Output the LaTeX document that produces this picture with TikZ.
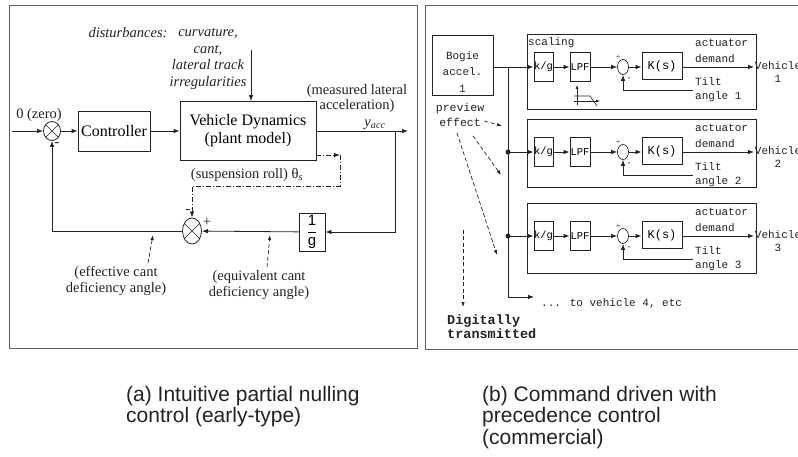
\documentclass[tikz,border=0pt]{standalone}
\usepackage{fontspec}
\setmainfont{Liberation Serif}
\setsansfont{Liberation Sans}
\newfontfamily\courfont{Liberation Mono}
\usetikzlibrary{arrows.meta,positioning,shapes.geometric,calc}
\definecolor{ink}{RGB}{35,35,35}
\definecolor{frame}{RGB}{95,95,95}

\begin{document}
\begin{tikzpicture}[x=1pt,y=-1pt,
  blk/.style={draw=ink,line width=0.8pt,inner sep=1pt},
  sig/.style={-{Latex[length=6pt,width=4.5pt]},ink,line width=0.8pt},
  lbl/.style={-{Latex[length=5pt,width=3.5pt]},ink,dashed,dash pattern=on 4pt off 2.5pt,line width=0.7pt},
  sumx/.style={draw=ink,ellipse,line width=0.8pt,inner sep=0pt},
  cmp/.style={draw=ink,ellipse,line width=0.7pt,inner sep=0pt,minimum width=11pt,minimum height=15pt},
  note/.style={font=\fontsize{14.5}{16}\selectfont,text=ink,align=center,inner sep=0pt},
  tt/.style={font=\courfont\fontsize{11}{13.5}\selectfont,text=ink,inner sep=0pt},
  cblk/.style={blk,font=\courfont\fontsize{10.5}{12}\selectfont,inner sep=0pt,minimum width=19pt,minimum height=29pt},
  panel/.style={draw=frame,line width=0.9pt}]
\useasboundingbox (0,0) rectangle (798,457);
\fill[white] (0,0) rectangle (798,457);
\clip (0,0) rectangle (798,457);

% (a) partial nulling loop
\draw[panel] (9,5) rectangle (417,348);
\coordinate (in) at (12,131);
\node[sumx,minimum width=17pt,minimum height=19pt] (s1) at (52,131) {};
\draw[ink,line width=0.7pt] (s1.45) -- (s1.225) (s1.135) -- (s1.-45);
\node[blk,minimum width=72pt,minimum height=40pt,font=\fontsize{16}{18}\selectfont] (ctrl) at (114,131) {Controller};
\node[blk,minimum width=136pt,minimum height=59pt,align=center,font=\fontsize{16}{18}\selectfont] (vd) at (248,131) {Vehicle Dynamics\\(plant model)};
\node[blk,minimum width=26pt,minimum height=38pt,font=\fontsize{15}{17}\selectfont] (ginv) at (312,232) {$\displaystyle\frac{\textsf{1}}{\textsf{g}}$};
\node[sumx,minimum width=19pt,minimum height=26pt] (s2) at (192,231) {};
\draw[ink,line width=0.7pt] (s2.45) -- (s2.225) (s2.135) -- (s2.-45);
\coordinate (yout) at (408,131);
\coordinate (br) at (395,131);
\coordinate (dist) at (251,50);
\coordinate (rollc) at (340,155);
\coordinate (rolld) at (340,186);

\draw[sig] (in) -- (s1);
\draw[sig] (s1) -- (ctrl);
\draw[sig] (ctrl) -- (vd);
\draw[sig] (vd.east) -- (yout);
\draw[sig] (br) |- (ginv.east);
\draw[sig] (ginv) -- (s2);
\draw[sig] (s2.west) -| (s1.south);
\draw[sig] (dist) -- (dist |- vd.north);
\draw[sig,dash pattern=on 5pt off 2pt on 1pt off 2pt] (vd.east |- rollc) -- (rollc);
\draw[sig,dash pattern=on 5pt off 2pt on 1pt off 2pt] (rollc) -- (rolld) -| (s2.north);

\node[note] (zero) at (39,115) {0 (zero)};
\node[note,font=\fontsize{14.5}{15}\selectfont] (meas) at (357,99) {(measured lateral\\acceleration)};
\node[note] (yacc) at (375,125) {\textit{y}\textsubscript{\textit{acc}}};
\node[note] (roll) at (247,175) {(suspension roll) θ\textsubscript{\textit{s}}};
\node[note] (m1) at (57,145) {-};
\node[note] (m2) at (188,212) {-};
\node[note] (p2) at (207,222) {+};
\node[note,font=\itshape\fontsize{14.5}{16}\selectfont] (dlab) at (128,33) {disturbances:};
\node[note,font=\itshape\fontsize{14.5}{16.5}\selectfont] (dlist) at (208,59) {curvature,\\cant,\\lateral track\\irregularities};
\node[note] (effl) at (116,281) {(effective cant\\deficiency angle)};
\node[note] (eqvl) at (259,285) {(equivalent cant\\deficiency angle)};
\coordinate (effp) at (153,235);
\coordinate (eqvp) at (270,235);
\draw[lbl] ($(effl.north)+(32,-3)$) -- (effp);
\draw[lbl] ($(eqvl.north)+(8,-3)$) -- (eqvp);

% (b) command driven with precedence
\draw[panel] (425,5) rectangle (810,349);
\node[blk,minimum width=61pt,minimum height=60pt] (bogie) at (462.5,65) {};
\node[tt,align=center,font=\courfont\fontsize{11}{16.5}\selectfont] (bogietxt) at (462.5,72) {Bogie\\accel.\\1};

\foreach \i/\y/\b in {1/67/42,2/152/35,3/236/37} {
  \draw[ink,line width=0.8pt] (527,\y-33) rectangle (756,\y+\b);
  \node[cblk] (kg\i) at (543.5,\y) {k/g};
  \node[cblk,minimum width=20pt] (lpf\i) at (580,\y) {LPF};
  \node[cmp] (cmp\i) at (623,\y) {};
  \node[blk,minimum width=40pt,minimum height=27pt,inner sep=0pt,font=\courfont\fontsize{12}{14}\selectfont] (ks\i) at (662,\y-1) {K(s)};
  \coordinate (veh\i) at (754,\y);
  \coordinate (tilt\i) at (693,\y+23);
  \draw[sig] (kg\i) -- (lpf\i);
  \draw[sig] (lpf\i) -- (cmp\i);
  \draw[sig] (cmp\i) -- (ks\i.west |- cmp\i);
  \draw[sig] (ks\i.east |- veh\i) -- (veh\i);
  \draw[sig] (tilt\i) -| (cmp\i.south);
  \node[tt,anchor=west] (act\i) at (695,\y-24) {actuator};
  \node[tt,anchor=west] (dem\i) at (695,\y-8) {demand};
  \node[tt,anchor=west] (tlt\i) at (695,\y+15) {Tilt};
  \node[tt,anchor=west] (ang\i) at (695,\y+30) {angle \i};
  \node[tt,align=center] (vname\i) at (778,\y+5) {Vehicle\\\i};
  \node[tt,font=\fontsize{8}{8}\selectfont] (cp\i) at (618,\y-10) {+};
  \node[tt,font=\fontsize{9}{9}\selectfont] (cm\i) at (629,\y+12) {-};
}
\node[tt,anchor=west] (scal) at (528,43) {scaling};

% trunk to the vehicles
\coordinate (tr0) at (508,67);
\coordinate (tr2) at (508,152);
\coordinate (tr3) at (508,236);
\coordinate (tr4) at (508,297);
\coordinate (v4) at (534,297);
\draw[sig] (bogie.east |- kg1) -- (kg1.west);
\draw[ink,line width=0.8pt] (tr0) -- (tr4);
\draw[sig] (tr4) -- (v4);
\draw[sig] (tr2) -- (kg2.west);
\draw[sig] (tr3) -- (kg3.west);
\fill[ink] (tr2) circle (2.5) (tr3) circle (2.5);
\node[tt,anchor=west] (more) at (541,303) {... to vehicle 4, etc};

% filter sketch
\draw[-{Latex[length=4pt,width=3pt]},ink,line width=0.6pt] (577,105) -- (577,85);
\draw[-{Latex[length=4pt,width=3pt]},ink,line width=0.6pt] (574,101) -- (600,101);
\draw[ink,line width=0.6pt] (574,96) -- (590,96) -- (597,106);

% preview and transmission notes
\node[tt,align=center,font=\courfont\fontsize{11.5}{15}\selectfont] (prev) at (460,115) {preview\\effect};
\coordinate (pv1) at (502,126);
\coordinate (pv2) at (501,175);
\coordinate (pv3) at (497,255);
\draw[lbl] ($(prev.east)+(0,6)$) -- (pv1);
\draw[lbl] ($(prev.south)+(13,9)$) -- (pv2);
\draw[lbl] ($(prev.south)+(-3,6)$) -- (pv3);
\node[tt,align=left,anchor=north west,font=\courfont\bfseries\fontsize{13.5}{13.5}\selectfont] (digi) at (447,315) {Digitally\\transmitted};
\coordinate (dtop) at (463,230);
\draw[lbl] (dtop) -- ($(digi.north west)+(16,-8)$);

% captions
\node[anchor=north west,align=left,inner sep=0pt,text=ink,font=\sffamily\fontsize{21}{21.5}\selectfont] (capa) at (126,386) {(a) Intuitive partial nulling\\control (early-type)};
\node[anchor=north west,align=left,inner sep=0pt,text=ink,font=\sffamily\fontsize{21}{21.5}\selectfont] (capb) at (482,386) {(b) Command driven with\\precedence control\\(commercial)};
\end{tikzpicture}
\end{document}
